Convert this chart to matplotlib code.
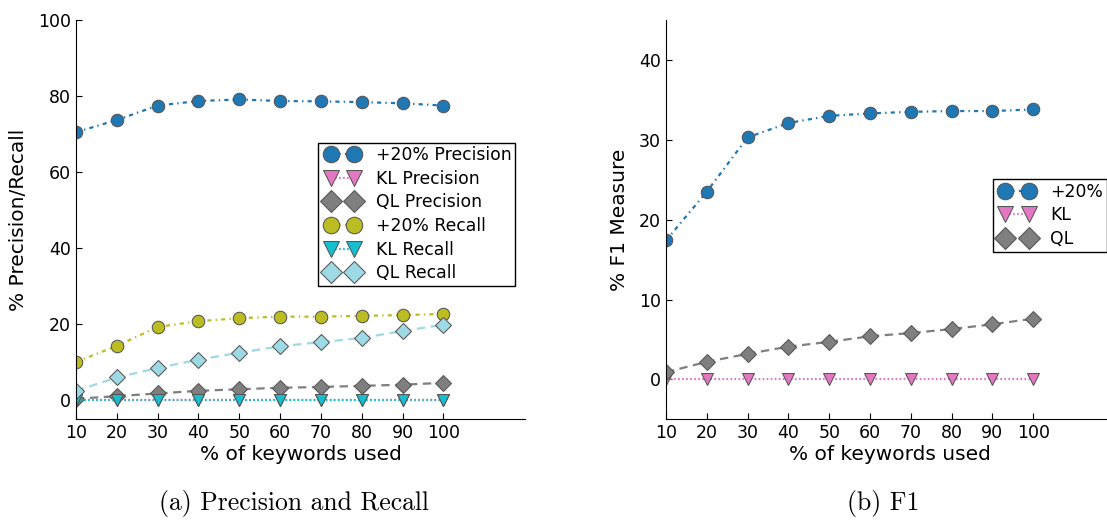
#!/usr/bin/env python3
"""precision/recall and F1 against share of keywords used"""
import matplotlib
matplotlib.use("Agg")
import matplotlib.pyplot as plt
from matplotlib.lines import Line2D
from matplotlib.legend_handler import HandlerLine2D

keywords = [10, 20, 30, 40, 50, 60, 70, 80, 90, 100]

prec_plus20 = [70.5, 73.7, 77.5, 78.7, 79.1, 78.7, 78.6, 78.4, 78.1, 77.5]
prec_kl = [0, 0, 0, 0, 0, 0, 0, 0, 0, 0]
prec_ql = [0.4, 1.1, 1.8, 2.5, 2.9, 3.3, 3.5, 3.8, 4.1, 4.6]
rec_plus20 = [10.1, 14.3, 19.3, 20.8, 21.6, 22.0, 22.0, 22.2, 22.4, 22.7]
rec_kl = [0, 0, 0, 0, 0, 0, 0, 0, 0, 0]
rec_ql = [2.5, 6.0, 8.5, 10.7, 12.5, 14.2, 15.3, 16.4, 18.2, 19.9]

f1_plus20 = [17.4, 23.5, 30.3, 32.1, 33.0, 33.3, 33.5, 33.6, 33.6, 33.8]
f1_kl = [0, 0, 0, 0, 0, 0, 0, 0, 0, 0]
f1_ql = [0.9, 2.2, 3.2, 4.1, 4.7, 5.4, 5.8, 6.3, 6.9, 7.6]

BLUE = "#1f77b4"
PINK = "#e377c2"
GRAY = "#7f7f7f"
OLIVE = "#bcbd22"
CYAN = "#17becf"
LCYAN = "#9edae5"
EDGE = "#555555"

# dash patterns in points, not scaled with line width
DASHDOT = (0, (3, 3, 1, 3))
DOTTED = (0, (1.2, 1.7))
DASHED = (0, (6, 4))

plt.rcParams["font.family"] = "DejaVu Sans"
plt.rcParams["lines.scale_dashes"] = False


def style_axes(ax):
    """keep only left/bottom spines with inward ticks"""
    ax.spines["top"].set_visible(False)
    ax.spines["right"].set_visible(False)
    ax.tick_params(direction="in", length=4, top=False, right=False,
                   labelsize=12.5)
    ax.set_xticks(keywords)
    ax.set_xlim(10, 120)
    ax.set_xlabel("% of keywords used", fontsize=14.5, labelpad=2)


def draw(ax, y, label, color, ls, marker, ms):
    ax.plot(keywords, y, linestyle=ls, color=color, lw=1.6, marker=marker,
            markersize=ms, markerfacecolor=color, markeredgecolor=EDGE,
            markeredgewidth=0.75, label=label)


def add_legend(ax, anchor):
    leg = ax.legend(loc="upper left", bbox_to_anchor=anchor, numpoints=2,
                    markerscale=1.32, handlelength=2.45, handletextpad=0.7,
                    labelspacing=0.33, borderpad=0.2, fontsize=12.4,
                    fancybox=False, framealpha=1, borderaxespad=0,
                    handler_map={Line2D: HandlerLine2D(marker_pad=0.55)})
    leg.get_frame().set_edgecolor("black")
    leg.get_frame().set_linewidth(1.0)
    return leg


fig = plt.figure(figsize=(11.07, 5.22), dpi=100)
ax1 = fig.add_axes([0.0687, 0.1967, 0.4055, 0.765])
ax2 = fig.add_axes([0.6016, 0.1967, 0.4055, 0.765])

# (a) precision and recall
draw(ax1, prec_plus20, "+20% Precision", BLUE, DASHDOT, "o", 9)
draw(ax1, prec_kl, "KL Precision", PINK, DOTTED, "v", 8.5)
draw(ax1, prec_ql, "QL Precision", GRAY, DASHED, "D", 8.5)
draw(ax1, rec_plus20, "+20% Recall", OLIVE, DASHDOT, "o", 9)
draw(ax1, rec_kl, "KL Recall", CYAN, DOTTED, "v", 8.5)
draw(ax1, rec_ql, "QL Recall", LCYAN, DASHED, "D", 8.5)
style_axes(ax1)
ax1.set_ylim(-5, 100)
ax1.set_yticks([0, 20, 40, 60, 80, 100])
ax1.set_ylabel("% Precision/Recall", fontsize=14.5, labelpad=7)
add_legend(ax1, (0.539, 0.693))

# (b) F1
draw(ax2, f1_plus20, "+20%", BLUE, DASHDOT, "o", 9)
draw(ax2, f1_kl, "KL", PINK, DOTTED, "v", 8.5)
draw(ax2, f1_ql, "QL", GRAY, DASHED, "D", 8.5)
style_axes(ax2)
ax2.set_ylim(-5, 45)
ax2.set_yticks([0, 10, 20, 30, 40])
ax2.set_ylabel("% F1 Measure", fontsize=14.5, labelpad=7)
add_legend(ax2, (0.7276, 0.601))

fig.text(0.2656, 0.023, "(a) Precision and Recall", family="cmr10",
         fontsize=18.5, ha="center", va="baseline")
fig.text(0.798, 0.023, "(b) F1", family="cmr10", fontsize=18.5,
         ha="center", va="baseline")

fig.savefig("out.png", dpi=100)
